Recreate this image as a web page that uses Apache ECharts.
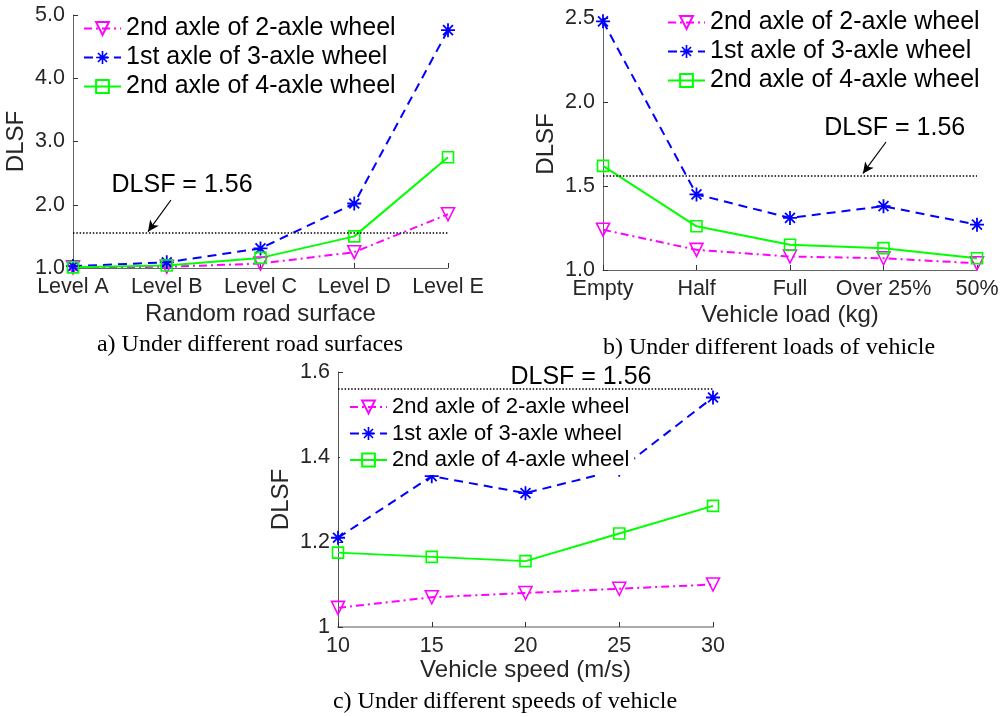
<!DOCTYPE html>
<html>
<head>
<meta charset="utf-8">
<script src="https://cdn.jsdelivr.net/npm/echarts@6/dist/echarts.min.js"></script>
<style>
html,body{margin:0;padding:0;background:#fff;}
#main{width:1005px;height:717px;}
</style>
</head>
<body>
<div id="main"></div>
<script>
// ---------------- DATA ----------------
var seriesNames = ['2nd axle of 2-axle wheel', '1st axle of 3-axle wheel', '2nd axle of 4-axle wheel'];

var roadCategories = ['Level A', 'Level B', 'Level C', 'Level D', 'Level E'];
var roadAxle2of2 = [1.01, 1.02, 1.07, 1.25, 1.85];
var roadAxle1of3 = [1.03, 1.09, 1.31, 2.02, 4.76];
var roadAxle2of4 = [1.01, 1.04, 1.16, 1.50, 2.75];

var loadCategories = ['Empty', 'Half', 'Full', 'Over 25%', '50%'];
var loadAxle2of2 = [1.24, 1.12, 1.08, 1.07, 1.04];
var loadAxle1of3 = [2.48, 1.45, 1.31, 1.38, 1.27];
var loadAxle2of4 = [1.62, 1.26, 1.15, 1.13, 1.07];

var speeds = [10, 15, 20, 25, 30];
var speedAxle2of2 = [1.045, 1.07, 1.08, 1.09, 1.10];
var speedAxle1of3 = [1.21, 1.355, 1.315, 1.37, 1.54];
var speedAxle2of4 = [1.175, 1.165, 1.155, 1.22, 1.285];

var dlsfLimit = 1.56;
var dlsfText = 'DLSF = 1.56';

var captions = ['a) Under different road surfaces', 'b) Under different loads of vehicle', 'c) Under different speeds of vehicle'];
var xNames = ['Random road surface', 'Vehicle load (kg)', 'Vehicle speed (m/s)'];
var yName = 'DLSF';

// ---------------- STYLE / LAYOUT ----------------
var SANS = 'Liberation Sans, Arial, Helvetica, sans-serif';
var SERIF = 'Liberation Serif, Times New Roman, serif';
var TXT = '#262626';

function asteriskPath() {
  var c = 50, L = 50, t = 6.5, s = '';
  [0, 45, 90, 135].forEach(function (deg) {
    var a = deg * Math.PI / 180;
    var dx = Math.cos(a), dy = Math.sin(a), nx = -dy, ny = dx;
    var p = [
      [c + L * dx + t * nx, c + L * dy + t * ny],
      [c + L * dx - t * nx, c + L * dy - t * ny],
      [c - L * dx - t * nx, c - L * dy - t * ny],
      [c - L * dx + t * nx, c - L * dy + t * ny]
    ];
    s += 'M' + p.map(function (q) { return q[0].toFixed(2) + ' ' + q[1].toFixed(2); }).join(' L') + ' Z ';
  });
  return 'path://' + s;
}
var ASTER = asteriskPath();

var styles = [
  { color: '#ff00ff', symbol: 'triangle', rotate: 180, size: 13, dash: [8, 4, 2, 4], hollow: true },
  { color: '#0000ff', symbol: ASTER, rotate: 0, size: 14, dash: [9, 6], hollow: false },
  { color: '#00ff00', symbol: 'rect', rotate: 0, size: 11, dash: 'solid', hollow: true }
];

var grids = [
  { left: 73, top: 15, width: 375, height: 253 },
  { left: 603, top: 18, width: 374, height: 252 },
  { left: 338, top: 372, width: 375, height: 255 }
];

// annotation anchors in data units of each panel
var annotations = [
  { text: [1.163, 2.31], tail: [1.045, 2.075], tip: [0.8, 1.575] },
  { text: [3.12, 1.845], tail: [3.027, 1.762], tip: [2.78, 1.575] },
  { text: [22.96, 1.588], tail: null, tip: null }
];

function makeSeries(gi, xs, vals, si) {
  var st = styles[si];
  var s = {
    type: 'line',
    name: seriesNames[si],
    xAxisIndex: gi,
    yAxisIndex: gi,
    data: xs.map(function (x, i) { return [x, vals[i]]; }),
    symbol: st.symbol,
    symbolRotate: st.rotate,
    symbolSize: st.size,
    showAllSymbol: true,
    lineStyle: { color: st.color, width: 2, type: st.dash },
    itemStyle: st.hollow ? { color: 'rgba(0,0,0,0)', borderColor: st.color, borderWidth: 1.6 } : { color: st.color, borderWidth: 0 },
    emphasis: { disabled: true },
    animation: false,
    z: 2
  };
  if (si === 0) {
    var an = annotations[gi];
    s.markLine = {
      silent: true,
      animation: false,
      symbol: ['none', 'none'],
      label: { show: false },
      lineStyle: { color: '#000', width: 1.5, type: [1.5, 1.8] },
      data: [{ yAxis: dlsfLimit }]
    };
    if (an.tail) {
      s.markLine.data.push([
        { coord: an.tail, symbol: 'none', lineStyle: { color: '#000', width: 1.2, type: 'solid' } },
        { coord: an.tip, symbol: 'arrow', symbolSize: [8, 11], lineStyle: { color: '#000', width: 1.2, type: 'solid' } }
      ]);
    }
    s.markPoint = {
      silent: true,
      animation: false,
      symbol: 'rect',
      symbolSize: 1,
      itemStyle: { color: 'rgba(0,0,0,0)' },
      label: { show: true, position: 'inside', formatter: dlsfText, color: '#000', fontSize: 25, fontFamily: SANS },
      data: [{ coord: an.text }]
    };
  }
  return s;
}

var idx = [0, 1, 2, 3, 4];
var series = [];
[roadAxle2of2, roadAxle1of3, roadAxle2of4].forEach(function (v, si) { series.push(makeSeries(0, idx, v, si)); });
[loadAxle2of2, loadAxle1of3, loadAxle2of4].forEach(function (v, si) { series.push(makeSeries(1, idx, v, si)); });
[speedAxle2of2, speedAxle1of3, speedAxle2of4].forEach(function (v, si) { series.push(makeSeries(2, speeds, v, si)); });

function xAxisCfg(gi, min, max, interval, formatter, lineColor, lineWidth, nameGap) {
  return {
    type: 'value', gridIndex: gi, min: min, max: max, interval: interval,
    name: xNames[gi], nameLocation: 'middle', nameGap: nameGap,
    nameTextStyle: { fontSize: 24, color: TXT, fontFamily: SANS },
    axisLine: { show: true, onZero: false, lineStyle: { color: lineColor, width: lineWidth } },
    axisTick: { show: true, inside: true, length: 5, lineStyle: { color: '#333', width: 1 } },
    axisLabel: { show: true, margin: 8, fontSize: 21.5, color: TXT, fontFamily: SANS, formatter: formatter, hideOverlap: false },
    splitLine: { show: false }
  };
}
function yAxisCfg(gi, min, max, interval, formatter, lineColor) {
  return {
    type: 'value', gridIndex: gi, min: min, max: max, interval: interval,
    name: yName, nameLocation: 'middle', nameGap: 45, nameRotate: 90,
    nameTextStyle: { fontSize: 24, color: TXT, fontFamily: SANS },
    axisLine: { show: true, lineStyle: { color: lineColor, width: 1 } },
    axisTick: { show: true, inside: true, length: 5, lineStyle: { color: '#333', width: 1 } },
    axisLabel: { show: true, margin: 8, fontSize: 21.5, color: TXT, fontFamily: SANS, formatter: formatter },
    splitLine: { show: false }
  };
}

function legendCfg(left, top, fontSize, gap, extra) {
  var l = {
    orient: 'vertical', left: left, top: top, z: 10,
    itemWidth: 37, itemHeight: 16, itemGap: gap, padding: 0,
    selectedMode: false,
    textStyle: { fontSize: fontSize, lineHeight: fontSize, color: '#000', fontFamily: SANS, padding: [0, 0, 0, 0] },
    data: seriesNames.slice()
  };
  for (var k in extra) l[k] = extra[k];
  return l;
}

var option = {
  backgroundColor: '#fff',
  animation: false,
  grid: grids.map(function (g) { return { left: g.left, top: g.top, width: g.width, height: g.height, containLabel: false }; }),
  xAxis: [
    xAxisCfg(0, 0, 4, 1, function (v) { return roadCategories[v]; }, '#666', 1, 34),
    xAxisCfg(1, 0, 4, 1, function (v) { return loadCategories[v]; }, '#666', 1, 33),
    xAxisCfg(2, 10, 30, 5, null, '#aaa', 2, 30)
  ],
  yAxis: [
    yAxisCfg(0, 1, 5, 1, function (v) { return v.toFixed(1); }, '#666'),
    yAxisCfg(1, 1, 2.5, 0.5, function (v) { return v.toFixed(1); }, '#666'),
    yAxisCfg(2, 1, 1.6, 0.2, function (v) { return String(Math.round(v * 10) / 10); }, '#555')
  ],
  legend: [
    legendCfg(83, 16, 25, 4, {}),
    legendCfg(667, 10, 25, 4, {}),
    legendCfg(340, 393, 22, 4.5, { backgroundColor: '#fff', padding: [3, 5, 4, 9] })
  ],
  graphic: [
    { type: 'text', x: 250, y: 345, style: { text: captions[0], fontSize: 24, fontFamily: SERIF, fill: '#000', align: 'center', verticalAlign: 'middle', textAlign: 'center', textVerticalAlign: 'middle' } },
    { type: 'text', x: 769, y: 348, style: { text: captions[1], fontSize: 24, fontFamily: SERIF, fill: '#000', align: 'center', verticalAlign: 'middle', textAlign: 'center', textVerticalAlign: 'middle' } },
    { type: 'text', x: 505, y: 702, style: { text: captions[2], fontSize: 24, fontFamily: SERIF, fill: '#000', align: 'center', verticalAlign: 'middle', textAlign: 'center', textVerticalAlign: 'middle' } }
  ],
  series: series
};

var chart = echarts.init(document.getElementById('main'), null, { renderer: 'canvas' });
chart.setOption(option);
</script>
</body>
</html>
